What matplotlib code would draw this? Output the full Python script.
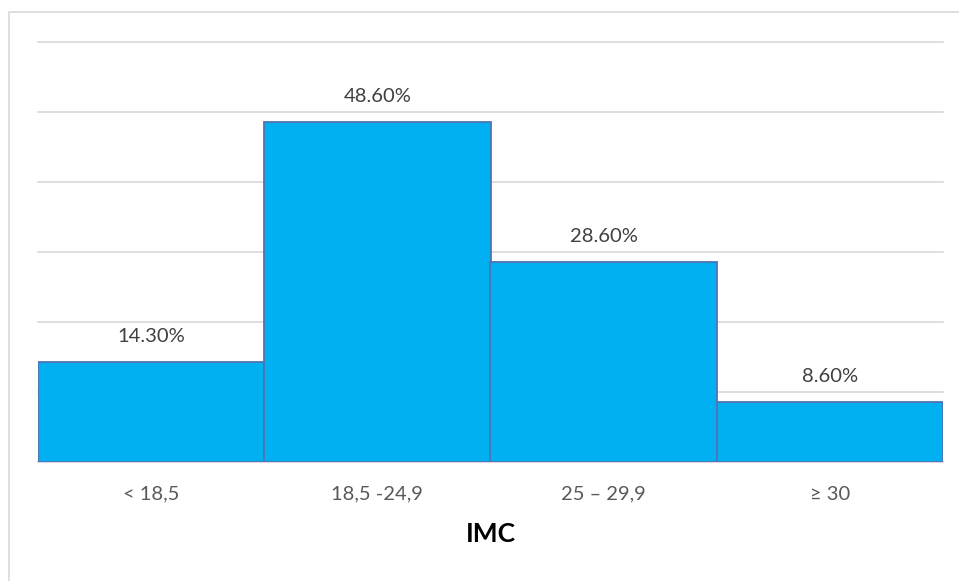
import matplotlib
matplotlib.use("Agg")
import matplotlib.pyplot as plt
from matplotlib.patches import Rectangle

categories = ["< 18,5", "18,5 -24,9", "25 – 29,9", "≥ 30"]
percentages = [14.3, 48.6, 28.6, 8.6]
value_labels = ["14.30%", "48.60%", "28.60%", "8.60%"]

plt.rcParams["font.family"] = ["Lato", "DejaVu Sans"]

fig = plt.figure(figsize=(9.59, 5.81), dpi=100)
fig.patch.set_facecolor("white")
# light frame around the chart area
fig.patches.append(Rectangle((9 / 959, -0.05), 1.0, 1 - 12 / 581 + 0.05,
                             transform=fig.transFigure, fill=False,
                             edgecolor="#d9d9d9", linewidth=1.2))

ax = fig.add_axes([38 / 959, 1 - 462 / 581, (943 - 38) / 959, (462 - 42) / 581])
x = range(len(categories))
ax.bar(x, percentages, width=1.0, color="#00b0f0", edgecolor="#4f74b5",
       linewidth=1.3, zorder=3)

ax.set_xlim(-0.5, len(categories) - 0.5)
ax.set_ylim(0, 60)
ax.set_yticks(range(0, 61, 10))
ax.yaxis.grid(True, color="#d9d9d9", linewidth=1.2, zorder=0, clip_on=False)
ax.tick_params(axis="y", left=False, labelleft=False)
ax.tick_params(axis="x", length=0, pad=17, labelsize=14.5, labelcolor="#595959")
ax.set_xticks(list(x))
ax.set_xticklabels(categories)
for s in ["top", "right", "left"]:
    ax.spines[s].set_visible(False)
ax.spines["bottom"].set_color("#d9d9d9")
ax.spines["bottom"].set_linewidth(1.2)

for xi, v, lab in zip(x, percentages, value_labels):
    ax.annotate(lab, (xi, v), xytext=(0, 12), textcoords="offset points",
                ha="center", va="bottom", fontsize=14.5, color="#404040")

ax.set_xlabel("IMC", fontsize=19, fontweight="bold", color="black", labelpad=14)

fig.savefig("out.png", dpi=100, facecolor="white")
